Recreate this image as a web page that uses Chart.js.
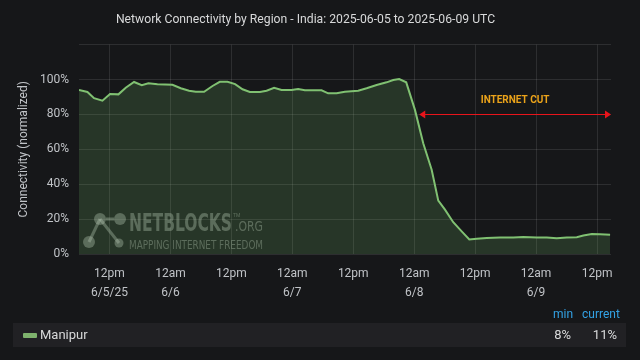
<!DOCTYPE html>
<html>
<head>
<meta charset="utf-8">
<script src="https://cdn.jsdelivr.net/npm/chart.js@4"></script>
<style>
  html, body { margin:0; padding:0; background:#161719; }
  #wrap { position:relative; width:640px; height:360px; background:#161719; font-family:Roboto, "Noto Sans", sans-serif; overflow:hidden; }
  #c { position:absolute; left:0; top:0; }
  .hdr { position:absolute; top:307px; font-size:12px; color:#33a2e5; }
  #row { position:absolute; left:13px; top:323px; width:613px; height:24px; background:#212124; }
  #sw { position:absolute; left:10px; top:10px; width:14px; height:5px; background:#7eb26d; border-radius:1px; }
  .lt { position:absolute; top:4px; font-size:13px; color:#d8d9da; line-height:16px; }
</style>
</head>
<body>
<div id="wrap">
  <canvas id="c" width="640" height="360"></canvas>
  <div class="hdr" style="left:553px;">min</div>
  <div class="hdr" style="left:582px;">current</div>
  <div id="row">
    <div id="sw"></div>
    <div class="lt" style="left:27px;">Manipur</div>
    <div class="lt" style="right:55px;">8%</div>
    <div class="lt" style="right:9px;">11%</div>
  </div>
</div>
<script>
// hours since 2025-06-05 00:00 UTC
const hours = [6.0, 7.66, 8.96, 10.61, 12.11, 13.76, 15.2, 16.84, 18.35, 19.67, 21.45, 24.4, 26.04, 27.67, 28.99, 30.63, 32.29, 33.72, 35.24, 36.74, 38.2, 39.64, 41.61, 42.93, 44.42, 45.88, 47.85, 49.15, 50.47, 53.76, 55.06, 56.72, 58.35, 60.97, 62.63, 64.6, 66.57, 67.87, 69.05, 70.43, 72.15, 73.78, 75.44, 76.74, 78.06, 79.69, 81.35, 82.85, 84.31, 86.28, 88.9, 91.52, 93.49, 96.13, 98.1, 100.07, 102.04, 104.01, 105.31, 106.97, 108.6, 110.57];
const manipur = [94.0, 92.9, 89.3, 87.9, 91.7, 91.5, 95.3, 98.6, 96.7, 97.8, 97.3, 97.0, 95.0, 93.6, 93.0, 93.0, 96.3, 98.7, 98.7, 97.4, 94.4, 92.9, 92.9, 93.6, 95.3, 94.0, 94.0, 94.6, 93.8, 93.8, 92.1, 92.1, 93.0, 93.6, 95.0, 96.9, 98.4, 99.7, 100.3, 98.4, 82.6, 63.5, 48.3, 30.6, 25.4, 18.2, 13.0, 8.3, 8.7, 9.2, 9.4, 9.4, 9.8, 9.4, 9.4, 9.0, 9.4, 9.6, 10.6, 11.5, 11.3, 11.1];
const tickHours = [12, 24, 36, 48, 60, 72, 84, 96, 108];
const tickLabels = [['12pm','6/5/25'], ['12am','6/6'], ['12pm',''], ['12am','6/7'], ['12pm',''], ['12am','6/8'], ['12pm',''], ['12am','6/9'], ['12pm','']];
const yTicks = [0, 20, 40, 60, 80, 100, 120];
const cutStart = 73.0, cutLevel = 80, cutLabel = 'INTERNET CUT';

const FONT = 'Roboto, "Noto Sans", sans-serif';
const NARROW = '"Liberation Sans Narrow", "DejaVu Sans Condensed", sans-serif';

function fitText(ctx, text, x, y, width, font) {
  ctx.save();
  ctx.font = font;
  const w = ctx.measureText(text).width;
  ctx.translate(x, y);
  ctx.scale(width / w, 1);
  ctx.fillText(text, 0, 0);
  ctx.restore();
}

const overlay = {
  id: 'overlay',
  beforeDatasetsDraw(chart) {
    const ctx = chart.ctx;
    ctx.save();
    const col = 'rgba(200,205,200,0.36)';
    ctx.strokeStyle = col; ctx.fillStyle = col; ctx.lineWidth = 3;
    ctx.beginPath(); ctx.moveTo(100,219); ctx.lineTo(89,242); ctx.stroke();
    ctx.beginPath(); ctx.moveTo(100,219); ctx.lineTo(119,243); ctx.stroke();
    ctx.beginPath(); ctx.moveTo(106,219); ctx.lineTo(114,219); ctx.stroke();
    [[100,219,6],[120,219,6],[89,242,6],[119,243,4.5]].forEach(([x,y,r])=>{ctx.beginPath();ctx.arc(x,y,r,0,Math.PI*2);ctx.fill();});
    ctx.textBaseline = 'alphabetic'; ctx.textAlign = 'left';
    fitText(ctx, 'NETBLOCKS', 129, 231, 103, 'bold 24px ' + NARROW);
    ctx.font = '5px ' + FONT;
    ctx.fillText('TM', 233, 217);
    fitText(ctx, '.ORG', 235, 231, 28, '14px ' + NARROW);
    fitText(ctx, 'MAPPING INTERNET FREEDOM', 129, 249, 134, '12.5px ' + NARROW);
    ctx.restore();
  },
  afterDatasetsDraw(chart) {
    const ctx = chart.ctx, xs = chart.scales.x, ys = chart.scales.y;
    const x0 = xs.getPixelForValue(cutStart), x1 = chart.chartArea.right;
    const y = Math.round(ys.getPixelForValue(cutLevel)) + 0.5;
    ctx.save();
    ctx.strokeStyle = '#e8141b'; ctx.fillStyle = '#e8141b'; ctx.lineWidth = 1;
    ctx.beginPath(); ctx.moveTo(x0+4, y); ctx.lineTo(x1-4, y); ctx.stroke();
    ctx.beginPath(); ctx.moveTo(x0, y); ctx.lineTo(x0+6, y-4); ctx.lineTo(x0+6, y+4); ctx.closePath(); ctx.fill();
    ctx.beginPath(); ctx.moveTo(x1, y); ctx.lineTo(x1-6, y-4); ctx.lineTo(x1-6, y+4); ctx.closePath(); ctx.fill();
    ctx.fillStyle = '#eba31a';
    ctx.font = 'bold 10px ' + FONT;
    ctx.textAlign = 'center'; ctx.textBaseline = 'middle';
    ctx.fillText(cutLabel, (x0 + x1) / 2, ys.getPixelForValue(88));
    ctx.restore();
  }
};

new Chart(document.getElementById('c'), {
  type: 'line',
  data: {
    datasets: [{
      label: 'Manipur',
      data: hours.map((h, i) => ({ x: h, y: manipur[i] })),
      borderColor: '#80c172',
      backgroundColor: 'rgba(115,191,105,0.19)',
      borderWidth: 2,
      fill: 'origin',
      pointRadius: 0,
      tension: 0
    }]
  },
  options: {
    responsive: false,
    animation: false,
    layout: { padding: { left: 0, right: 29, top: 0, bottom: 54 } },
    plugins: {
      legend: { display: false },
      tooltip: { enabled: false },
      title: {
        display: true,
        text: 'Network Connectivity by Region - India: 2025-06-05 to 2025-06-09 UTC',
        color: '#d8d9da',
        font: { family: FONT, size: 12.2, weight: 'normal' },
        padding: { top: 13, bottom: 17 }
      }
    },
    scales: {
      x: {
        type: 'linear',
        min: 6, max: 110.75,
        afterBuildTicks: s => { s.ticks = tickHours.map(v => ({ value: v })); },
        afterFit: s => { s.height = 52; },
        ticks: {
          autoSkip: false, maxRotation: 0,
          color: '#c0c3c7',
          font: { family: FONT, size: 12, lineHeight: 1.6 },
          padding: 10,
          callback: (v) => { const i = tickHours.indexOf(v); return i >= 0 ? tickLabels[i] : ''; }
        },
        grid: { color: 'rgba(255,255,255,0.10)', drawTicks: false },
        border: { display: false }
      },
      y: {
        min: 0, max: 120,
        afterBuildTicks: s => { s.ticks = yTicks.map(v => ({ value: v })); },
        afterFit: s => { s.width = 79; },
        ticks: {
          color: '#c0c3c7',
          font: { family: FONT, size: 12 },
          padding: 10,
          callback: v => v === 120 ? '' : v + '%'
        },
        grid: { color: 'rgba(255,255,255,0.10)', drawTicks: false },
        border: { display: false },
        title: {
          display: true,
          text: 'Connectivity (normalized)',
          color: '#c0c3c7',
          font: { family: FONT, size: 12 },
          padding: { top: 17, bottom: 0 }
        }
      }
    }
  },
  plugins: [overlay]
});
</script>
</body>
</html>
